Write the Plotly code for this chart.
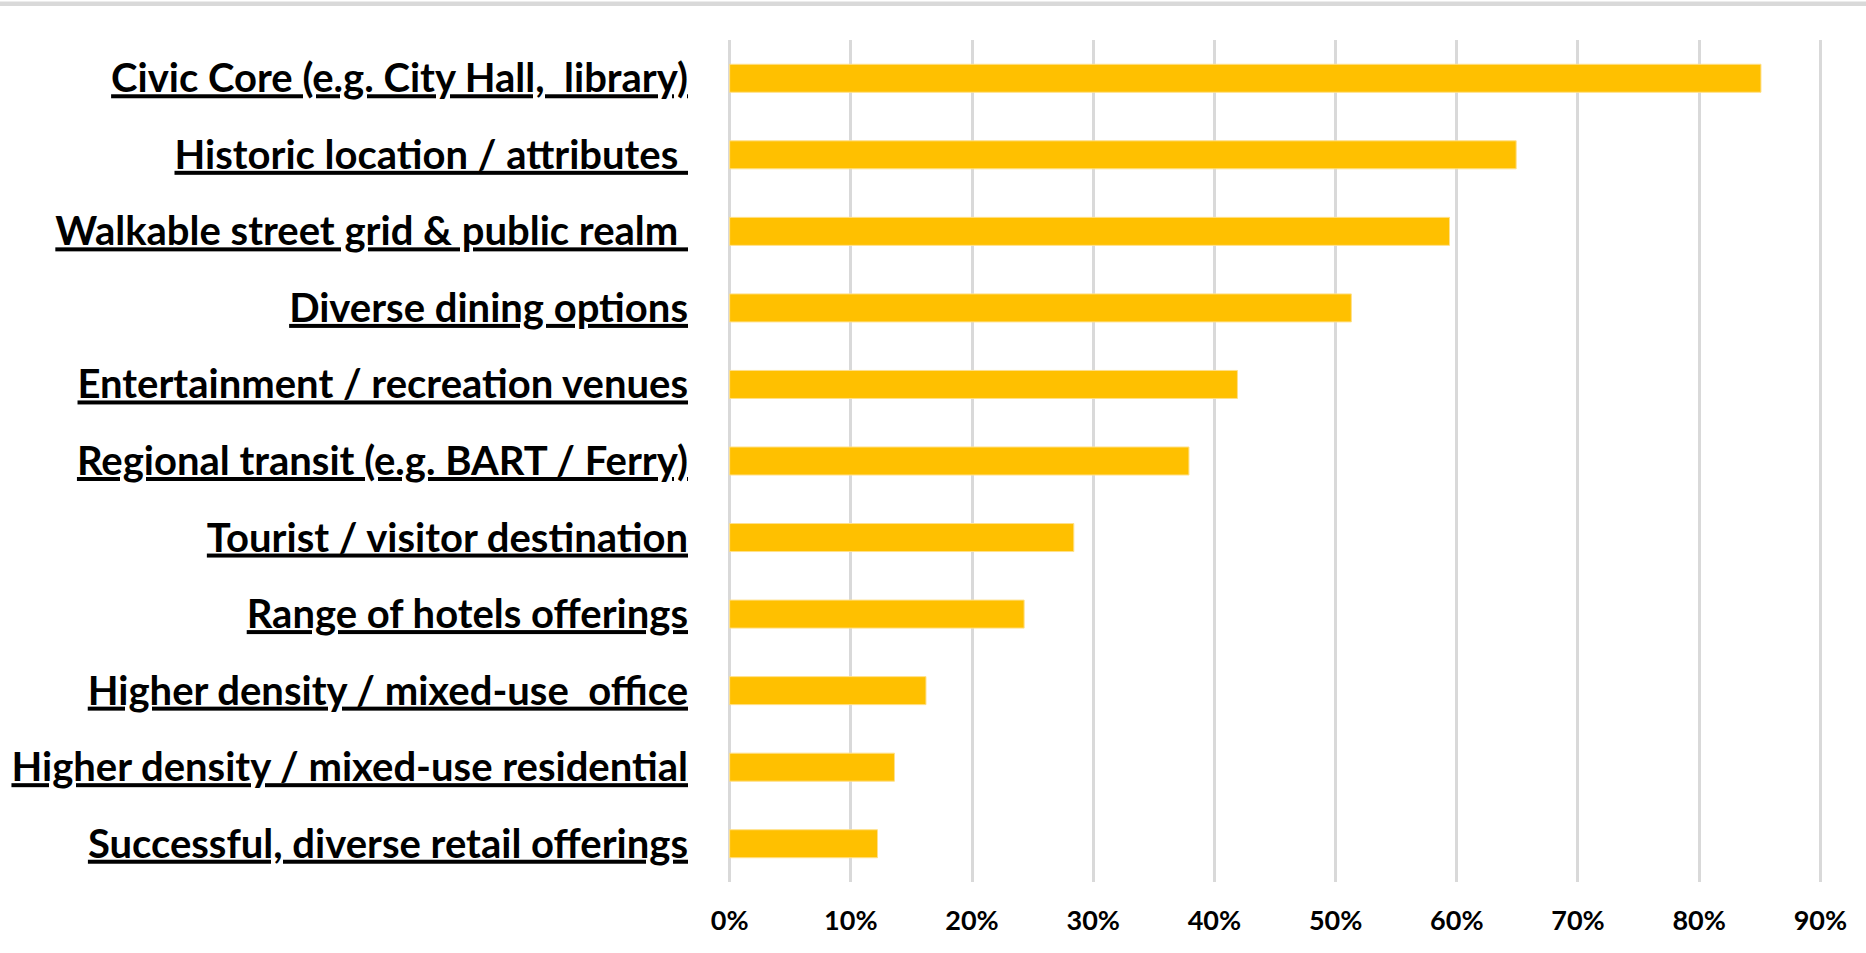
import plotly.graph_objects as go

NB = "\u00a0"
categories = [
    "Civic Core (e.g. City Hall," + NB + NB + "library)",
    "Historic location / attributes" + NB,
    "Walkable street grid & public realm" + NB,
    "Diverse dining options",
    "Entertainment / recreation venues",
    "Regional transit (e.g. BART / Ferry)",
    "Tourist / visitor destination",
    "Range of hotels offerings",
    "Higher density / mixed-use" + NB + NB + "office",
    "Higher density / mixed-use residential",
    "Successful, diverse retail offerings",
]
values = [0.851, 0.649, 0.594, 0.513, 0.419, 0.379, 0.284, 0.243, 0.162, 0.136, 0.122]
tick_vals = [0, 0.1, 0.2, 0.3, 0.4, 0.5, 0.6, 0.7, 0.8, 0.9]
tick_text = ["0%", "10%", "20%", "30%", "40%", "50%", "60%", "70%", "80%", "90%"]

FONT = "Lato, sans-serif"

fig = go.Figure(
    go.Bar(
        x=values,
        y=categories,
        orientation="h",
        marker=dict(color="#FFC000", line=dict(color="#FFE08A", width=1)),
        hoverinfo="x+y",
    )
)

fig.update_layout(
    width=1866,
    height=953,
    margin=dict(l=726, r=42, t=40, b=71),
    plot_bgcolor="white",
    paper_bgcolor="white",
    bargap=0.634,
    showlegend=False,
    shapes=[
        dict(type="rect", xref="paper", yref="paper",
             x0=-1, x1=2, y0=(882 - 1.5) / 842, y1=(882 - 6) / 842,
             fillcolor="#d9d9d9", line=dict(width=0), layer="above"),
    ],
)

fig.update_xaxes(
    range=[-0.003, 0.903],
    tickvals=tick_vals,
    ticktext=tick_text,
    showgrid=True,
    gridcolor="#d9d9d9",
    gridwidth=2.5,
    zeroline=False,
    showline=False,
    ticks="",
    ticklabelstandoff=20,
    tickfont=dict(family=FONT, size=27, color="black", weight="bold"),
)

fig.update_yaxes(
    autorange="reversed",
    showgrid=False,
    zeroline=False,
    showline=False,
    ticks="",
    ticklabelstandoff=37,
    tickfont=dict(family=FONT, size=40, color="black", weight="bold",
                  lineposition="under"),
)

fig.write_html(
    "out.html",
    config={"displayModeBar": False},
    post_script="document.body.style.margin='0';document.body.style.overflow='hidden';",
)
